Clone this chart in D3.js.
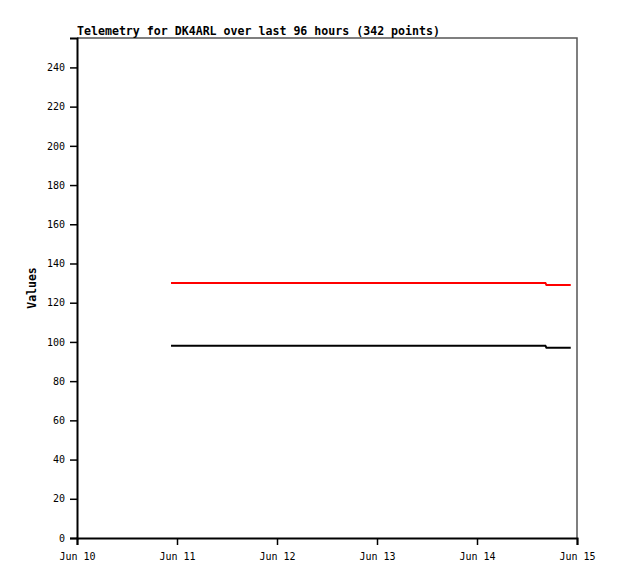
<!DOCTYPE html>
<html><head><meta charset="utf-8">
<script src="https://cdn.jsdelivr.net/npm/d3@7"></script>
<style>body{margin:0;background:#fff}</style>
</head><body>
<script>
const title = "Telemetry for DK4ARL over last 96 hours (342 points)";
const yLabel = "Values";
const times = ["2024-06-10T22:34:00Z", "2024-06-14T16:25:00Z", "2024-06-14T16:40:00Z", "2024-06-14T22:30:00Z"];
const redValues = [130, 130, 129, 129];
const blackValues = [98, 98, 97, 97];
const yTicks = [0, 20, 40, 60, 80, 100, 120, 140, 160, 180, 200, 220, 240];
const xTicks = ["2024-06-10T00:00:00Z", "2024-06-11T00:00:00Z", "2024-06-12T00:00:00Z", "2024-06-13T00:00:00Z", "2024-06-14T00:00:00Z", "2024-06-15T00:00:00Z"];

const W = 618, H = 579;
const m = {l: 77, r: 41, t: 38, b: 41};
const svg = d3.select("body").append("svg").attr("width", W).attr("height", H);
const x = d3.scaleUtc().domain([new Date(xTicks[0]), new Date(xTicks[xTicks.length-1])]).range([m.l, W - m.r]);
const y = d3.scaleLinear().domain([0, 255]).range([H - m.b, m.t]);
const font = "'DejaVu Sans Mono', monospace";

// frame top/right
svg.append("path").attr("d", `M${m.l},${m.t}H${W-m.r}V${H-m.b}`).attr("fill","none").attr("stroke","#555").attr("stroke-width",1.5);

const xa = svg.append("g").attr("transform", `translate(0,${H-m.b})`)
  .call(d3.axisBottom(x).tickValues(xTicks.map(d=>new Date(d))).tickFormat(d=>d3.utcFormat("%b %-d")(d)).tickSize(7).tickPadding(8));
const ya = svg.append("g").attr("transform", `translate(${m.l},0)`)
  .call(d3.axisLeft(y).tickValues(yTicks).tickSize(7).tickPadding(5));
[xa, ya].forEach(a => {
  a.select(".domain").attr("stroke","#000").attr("stroke-width",2);
  a.selectAll(".tick line").attr("stroke","#000").attr("stroke-width",1.5);
  a.selectAll("text").attr("font-family", font).attr("font-size", 10).attr("fill","#000");
});

const pts = times.map(t => new Date(t));
const line = d3.line().x((d,i)=>x(pts[i])).y(d=>y(d));
svg.append("path").datum(redValues).attr("d", line).attr("fill","none").attr("stroke","#ff0000").attr("stroke-width",2);
svg.append("path").datum(blackValues).attr("d", line).attr("fill","none").attr("stroke","#000").attr("stroke-width",2);

svg.append("text").attr("x", m.l).attr("y", 35).text(title)
  .attr("font-family", font).attr("font-size", 11.6).attr("font-weight","bold");
svg.append("text").attr("transform", `translate(36,${(m.t + H - m.b)/2}) rotate(-90)`).attr("text-anchor","middle").text(yLabel)
  .attr("font-family", font).attr("font-size", 11.5).attr("font-weight","bold");
</script>
</body></html>
